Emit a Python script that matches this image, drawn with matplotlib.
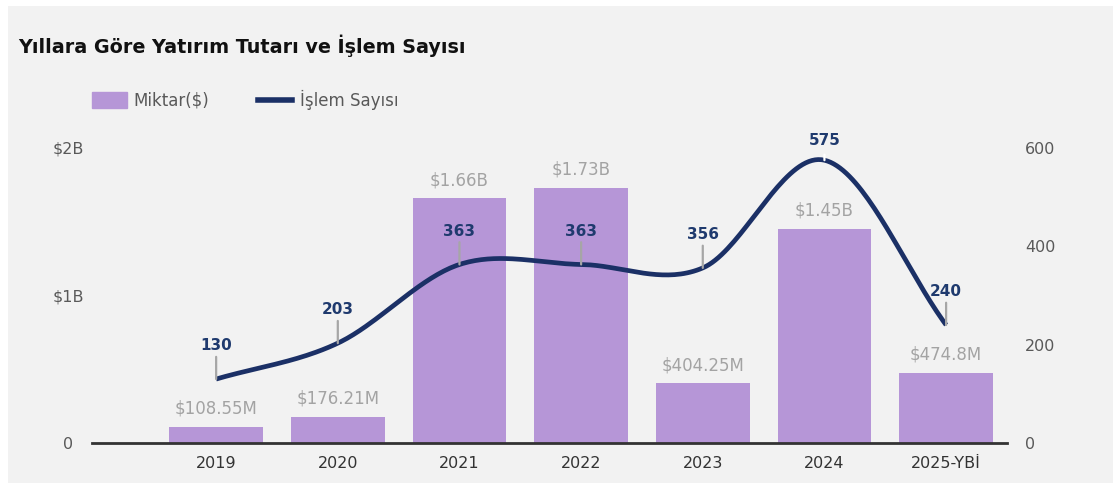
import numpy as np
import matplotlib.pyplot as plt

years = ["2019", "2020", "2021", "2022", "2023", "2024", "2025-YBİ"]
amounts = [108.55e6, 176.21e6, 1.66e9, 1.73e9, 404.25e6, 1.45e9, 474.8e6]
amount_labels = ["$108.55M", "$176.21M", "$1.66B", "$1.73B", "$404.25M", "$1.45B", "$474.8M"]
deals = [130, 203, 363, 363, 356, 575, 240]

BG = "#f2f2f2"
PURPLE = "#b696d7"
NAVY = "#1b3066"

plt.rcParams['font.family'] = ['DejaVu Sans']


def smooth(x, y, n=40):
    # catmull-rom style curve through the points
    x = np.asarray(x, float)
    y = np.asarray(y, float)
    m = np.zeros_like(y)
    m[1:-1] = (y[2:] - y[:-2]) / 2
    m[0] = y[1] - y[0]
    m[-1] = y[-1] - y[-2]
    xs, ys = [], []
    for i in range(len(x) - 1):
        t = np.linspace(0, 1, n)
        h00 = 2 * t**3 - 3 * t**2 + 1
        h10 = t**3 - 2 * t**2 + t
        h01 = -2 * t**3 + 3 * t**2
        h11 = t**3 - t**2
        xs.append(x[i] + t * (x[i + 1] - x[i]))
        ys.append(h00 * y[i] + h10 * m[i] + h01 * y[i + 1] + h11 * m[i + 1])
    return np.concatenate(xs), np.concatenate(ys)


fig = plt.figure(figsize=(11.13, 4.83), dpi=100, facecolor=BG)
# thin white margin on top and left like the screenshot
fig.patches.append(plt.Rectangle((0, 1 - 6 / 483), 1, 6 / 483, lw=0,
                                 transform=fig.transFigure, facecolor="white", zorder=-5))
fig.patches.append(plt.Rectangle((0, 0), 8 / 1113, 1, lw=0,
                                 transform=fig.transFigure, facecolor="white", zorder=-5))
ax = fig.add_axes([0.0827, 0.0828, 0.822, 0.611], facecolor=BG)
ax2 = ax.twinx()

x = np.arange(len(years))
ax.bar(x, amounts, width=0.77, color=PURPLE, zorder=2)
for xi, v, lab in zip(x, amounts, amount_labels):
    ax.annotate(lab, (xi, v), xytext=(0, 13), textcoords="offset points",
                ha="center", va="center", fontsize=12, color="#a3a3a3")

ax.set_xlim(-1.02, 6.5)
ax.set_ylim(0, 2e9)
ax.set_yticks([0, 1e9, 2e9])
ax.set_yticklabels(["0", "$1B", "$2B"])
ax.set_xticks(x)
ax.set_xticklabels(years)
for s in ["top", "right", "left"]:
    ax.spines[s].set_visible(False)
ax.spines["bottom"].set_color("#333333")
ax.spines["bottom"].set_linewidth(2)
ax.tick_params(axis="y", length=0, pad=17, labelsize=11.5, labelcolor="#595959")
for t in ax.get_yticklabels():
    t.set_horizontalalignment("center")
ax.tick_params(axis="x", length=0, pad=9, labelsize=11.5, labelcolor="#333333")

sx, sy = smooth(x, deals)
ax2.plot(sx, sy, color=NAVY, lw=3.4, solid_capstyle="butt", zorder=3)
ax2.set_ylim(0, 600)
ax2.set_yticks([0, 200, 400, 600])
for s in ["top", "right", "left", "bottom"]:
    ax2.spines[s].set_visible(False)
ax2.tick_params(axis="y", length=0, pad=13, labelsize=11.5, labelcolor="#595959")

top = max(deals)
for xi, v in zip(x, deals):
    lead = 4 if v == top else 16
    off = 14 if v == top else 24
    ax2.annotate("", (xi, v), xytext=(0, lead), textcoords="offset points",
                 arrowprops=dict(arrowstyle="-", color="#a6a6a6" if v != top else "white", lw=1.6,
                                 shrinkA=0, shrinkB=0), zorder=4)
    ax2.annotate(str(v), (xi, v), xytext=(0, off), textcoords="offset points",
                 ha="center", va="center", fontsize=11, fontweight="bold", color="#1f3a6e")

fig.text(0.016, 0.905, "Yıllara Göre Yatırım Tutarı ve İşlem Sayısı", fontsize=13.8,
         fontweight="bold", color="#111111", va="center")

# legend
fig.patches.append(plt.Rectangle((92 / 1113, 1 - 108 / 483), 35 / 1113, 16 / 483,
                                 transform=fig.transFigure, color=PURPLE))
fig.text(133 / 1113, 1 - 100 / 483, "Miktar($)", fontsize=12, color="#595959", va="center")
fig.lines.append(plt.Line2D([258 / 1113, 292 / 1113], [1 - 100 / 483] * 2,
                            transform=fig.transFigure, color=NAVY, lw=4))
fig.text(300 / 1113, 1 - 100 / 483, "İşlem Sayısı", fontsize=12, color="#595959", va="center")

fig.savefig("out.png", dpi=100, facecolor=BG)
